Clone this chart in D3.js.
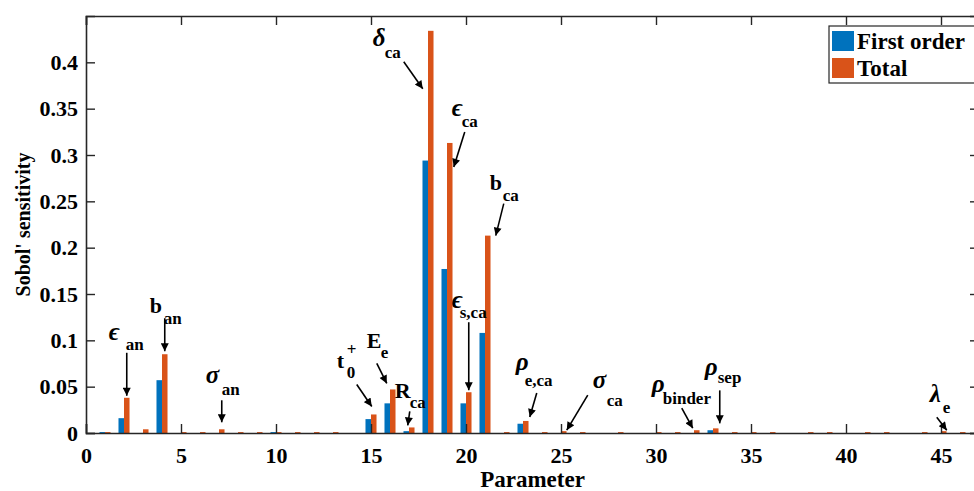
<!DOCTYPE html>
<html>
<head>
<meta charset="utf-8">
<script src="https://cdn.jsdelivr.net/npm/d3@7"></script>
<style>
  body { margin: 0; background: #fff; }
  text { font-family: "Liberation Serif", "Times New Roman", serif; font-weight: bold; fill: #000; }
</style>
</head>
<body>
<svg id="vis"></svg>
<script>
//DATOS--------------------------------------------------------------------------------------------
const PARAMETROS = d3.range(1, 47);
const FIRST_ORDER = [
  0.001, 0.016, 0.000, 0.057, 0.000, 0.000, 0.000, 0.000, 0.000, 0.001,
  0.000, 0.000, 0.000, 0.000, 0.015, 0.032, 0.002, 0.294, 0.177, 0.032,
  0.108, 0.000, 0.010, 0.000, 0.000, 0.000, 0.000, 0.000, 0.000, 0.000,
  0.000, 0.000, 0.003, 0.000, 0.000, 0.000, 0.000, 0.000, 0.000, 0.000,
  0.000, 0.000, 0.000, 0.000, 0.000, 0.000,
];
const TOTAL = [
  0.001, 0.038, 0.004, 0.085, 0.001, 0.001, 0.004, 0.001, 0.001, 0.001,
  0.001, 0.001, 0.001, 0.000, 0.020, 0.047, 0.006, 0.434, 0.313, 0.044,
  0.213, 0.001, 0.013, 0.001, 0.002, 0.001, 0.000, 0.001, 0.000, 0.001,
  0.001, 0.003, 0.005, 0.001, 0.001, 0.001, 0.000, 0.001, 0.001, 0.000,
  0.001, 0.001, 0.000, 0.001, 0.002, 0.001,
];
const X_TICKS = [0, 5, 10, 15, 20, 25, 30, 35, 40, 45];
const Y_TICKS = [0, 0.05, 0.1, 0.15, 0.2, 0.25, 0.3, 0.35, 0.4];
const Y_TICK_LABELS = ["0", "0.05", "0.1", "0.15", "0.2", "0.25", "0.3", "0.35", "0.4"];
const SERIES = ["First order", "Total"];

// anotaciones: parametro, simbolo, subindice, offsets (px) respecto a la barra naranja
const ANOTACIONES = [
  { p: 2, sym: "\u03F5", sub: "an", greek: true, start: [0, -45], tip: [0, -2], s: [-18, -58], b: [-1, -48] },
  { p: 4, sym: "b", sub: "an", start: [0, -36], tip: [0, -3], s: [-15, -41], b: [-1, -30] },
  { p: 7, sym: "\u03C3", sub: "an", greek: true, start: [0, -29], tip: [0, -7], s: [-16, -46], b: [0, -34] },
  { p: 15, sym: "t", sub: "0", sup: "+", start: [-17, -30], tip: [-2, -8], s: [-37, -46], b: [-27, -36], u: [-27, -59] },
  { p: 16, sym: "E", sub: "e", start: [-16, -26], tip: [-6, -6], s: [-26, -41], b: [-12, -31] },
  { p: 17, sym: "R", sub: "ca", start: [-2, -16], tip: [-4, -2], s: [-17, -29], b: [-2, -19] },
  { p: 18, sym: "\u03B4", sub: "ca", greek: true, start: [-27, 31], tip: [-8, 58], s: [-58, 15], b: [-46, 27] },
  { p: 19, sym: "\u03F5", sub: "ca", greek: true, start: [15, -11], tip: [4, 24], s: [2, -27], b: [12, -16] },
  { p: 21, sym: "b", sub: "ca", start: [16, -32], tip: [8, 0], s: [2, -46], b: [15, -35] },
  { p: 20, sym: "\u03F5", sub: "s,ca", greek: true, start: [0, -70], tip: [0, -2], s: [-17, -84], b: [-9, -74] },
  { p: 23, sym: "\u03C1", sub: "e,ca", greek: true, start: [11, -28], tip: [4, -4], s: [-10, -51], b: [-1, -35] },
  { p: 25, sym: "\u03C3", sub: "ca", greek: true, start: [24, -36], tip: [3, -1], s: [29, -43], b: [43, -25] },
  { p: 32, sym: "\u03C1", sub: "binder", greek: true, start: [-15, -22], tip: [-4, -2], s: [-45, -38], b: [-34, -26] },
  { p: 33, sym: "\u03C1", sub: "sep", greek: true, start: [4, -38], tip: [4, -5], s: [-11, -53], b: [2, -45] },
  { p: 45, sym: "\u03BB", sub: "e", greek: true, start: [-7, -14], tip: [3, -1], s: [-14, -29], b: [-1, -18] },
];

//CONSTANTES---------------------------------------------------------------------------------------
const WIDTH = 974;
const HEIGHT = 491;
const MARGIN = { top: 16, left: 86, bottom: 58 };
const X_MAX = 47;
const Y_MAX = 0.45;
const BAR_W = 0.29;
const COLORES = { "First order": "#0072BD", Total: "#D95319" };
const AXIS_COLOR = "#262626";
const TICK_LEN = 9;

const svg = d3.select("#vis").attr("width", WIDTH).attr("height", HEIGHT);

const escalaX = d3.scaleLinear().domain([0, X_MAX]).range([MARGIN.left, MARGIN.left + X_MAX * 19]);
const escalaY = d3.scaleLinear().domain([0, Y_MAX]).range([HEIGHT - MARGIN.bottom, MARGIN.top]);
const x0 = escalaX(0), x1 = escalaX(X_MAX), y0 = escalaY(0), y1 = escalaY(Y_MAX);

const datos = PARAMETROS.map((p, i) => ({ p: p, first: FIRST_ORDER[i], total: TOTAL[i] }));

//BARRAS-------------------------------------------------------------------------------------------
const barras = svg.append("g");
barras.selectAll("rect.first")
  .data(datos)
  .join("rect")
  .attr("class", "first")
  .attr("x", (d) => escalaX(d.p - BAR_W))
  .attr("width", escalaX(BAR_W) - escalaX(0))
  .attr("y", (d) => escalaY(d.first))
  .attr("height", (d) => y0 - escalaY(d.first))
  .attr("fill", COLORES["First order"]);
barras.selectAll("rect.total")
  .data(datos)
  .join("rect")
  .attr("class", "total")
  .attr("x", (d) => escalaX(d.p))
  .attr("width", escalaX(BAR_W) - escalaX(0))
  .attr("y", (d) => escalaY(d.total))
  .attr("height", (d) => y0 - escalaY(d.total))
  .attr("fill", COLORES.Total);

//EJES---------------------------------------------------------------------------------------------
const ejes = svg.append("g");
ejes.append("g")
  .attr("transform", `translate(0, ${y0})`)
  .call(d3.axisBottom(escalaX).tickValues(X_TICKS).tickSize(-TICK_LEN).tickPadding(14).tickFormat(d3.format("d")));
ejes.append("g")
  .attr("transform", `translate(0, ${y1})`)
  .call(d3.axisTop(escalaX).tickValues(X_TICKS).tickSize(-TICK_LEN).tickFormat(""));
ejes.append("g")
  .attr("transform", `translate(${x0}, 0)`)
  .call(d3.axisLeft(escalaY).tickValues(Y_TICKS).tickSize(-TICK_LEN).tickPadding(8).tickFormat((d, i) => Y_TICK_LABELS[i]));
ejes.append("g")
  .attr("transform", `translate(${x1}, 0)`)
  .call(d3.axisRight(escalaY).tickValues(Y_TICKS).tickSize(-TICK_LEN).tickFormat(""));
ejes.selectAll(".domain").attr("stroke", AXIS_COLOR).attr("stroke-width", 1.6);
ejes.selectAll(".tick line").attr("stroke", AXIS_COLOR).attr("stroke-width", 1.4);
ejes.selectAll(".tick text")
  .style("font-family", '"Liberation Serif", serif')
  .style("font-weight", "bold")
  .style("font-size", "22px")
  .attr("fill", "#000");

svg.append("text")
  .attr("x", (x0 + x1) / 2)
  .attr("y", 487)
  .attr("text-anchor", "middle")
  .style("font-size", "23px")
  .text("Parameter");
svg.append("text")
  .attr("transform", `translate(30, ${(y0 + y1) / 2}) rotate(-90)`)
  .attr("text-anchor", "middle")
  .style("font-size", "20px")
  .text("Sobol' sensitivity");

//ANOTACIONES--------------------------------------------------------------------------------------
svg.append("defs")
  .append("marker")
  .attr("id", "flecha")
  .attr("viewBox", "0 0 10 10")
  .attr("refX", 10)
  .attr("refY", 5)
  .attr("markerWidth", 10)
  .attr("markerHeight", 8)
  .attr("markerUnits", "userSpaceOnUse")
  .attr("orient", "auto")
  .append("path")
  .attr("d", "M0,0 L10,5 L0,10 Z")
  .attr("fill", "#000");

const anot = svg.append("g");
ANOTACIONES.forEach((a) => {
  const d = datos.find((e) => e.p === a.p);
  const cx = escalaX(a.p + BAR_W / 2);
  const cy = escalaY(d.total);
  anot.append("line")
    .attr("x1", cx + a.start[0]).attr("y1", cy + a.start[1])
    .attr("x2", cx + a.tip[0]).attr("y2", cy + a.tip[1])
    .attr("stroke", "#000")
    .attr("stroke-width", 1.6)
    .attr("marker-end", "url(#flecha)");
  anot.append("text")
    .attr("x", cx + a.s[0]).attr("y", cy + a.s[1])
    .style("font-size", a.greek ? "25px" : "22px")
    .style("font-style", a.greek ? "italic" : "normal")
    .text(a.sym);
  anot.append("text")
    .attr("x", cx + a.b[0]).attr("y", cy + a.b[1])
    .style("font-size", "17px")
    .text(a.sub);
  if (a.sup) {
    anot.append("text")
      .attr("x", cx + a.u[0]).attr("y", cy + a.u[1])
      .style("font-size", "17px")
      .text(a.sup);
  }
});

//LEYENDA------------------------------------------------------------------------------------------
const leyenda = svg.append("g");
leyenda.append("rect")
  .attr("x", 829).attr("y", 26)
  .attr("width", 150).attr("height", 57)
  .attr("fill", "#fff")
  .attr("stroke", AXIS_COLOR)
  .attr("stroke-width", 1.2);
SERIES.forEach((s, i) => {
  leyenda.append("rect")
    .attr("x", 832).attr("y", 31 + i * 27)
    .attr("width", 22).attr("height", 20)
    .attr("fill", COLORES[s]);
  leyenda.append("text")
    .attr("x", 857).attr("y", 49 + i * 27)
    .style("font-size", "23px")
    .text(s);
});
</script>
</body>
</html>
